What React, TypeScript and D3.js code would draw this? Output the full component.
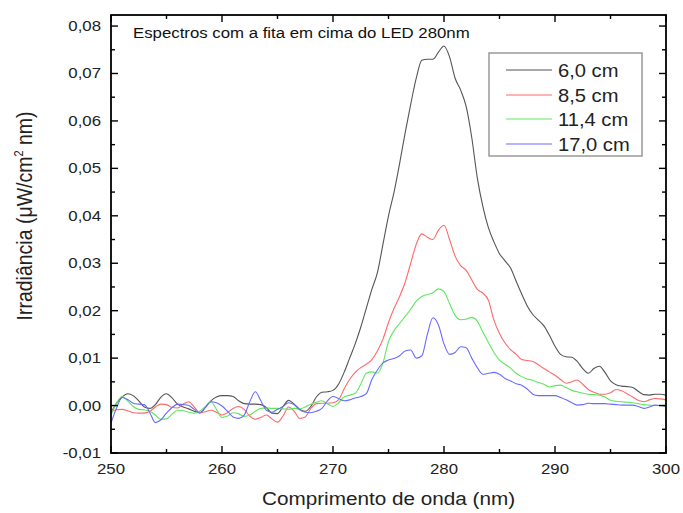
import React from "react";
import * as d3 from "d3";

const wavelengths: number[] = d3.range(250, 300.001, 0.5).map((v) => +v.toFixed(1));

const series6cm: number[] = [
  -0.0015, 0.0005, 0.0018, 0.0025, 0.0021, 0.0010, -0.0003, -0.0006, 0.0002, 0.0018,
  0.0025, 0.0016, 0.0003, -0.0003, -0.0007, -0.0012, -0.0015, -0.0004, 0.0010, 0.0018,
  0.0021, 0.0021, 0.0019, 0.0010, 0.0004, 0.0003, 0.0003, 0.0002, -0.0004, -0.0016,
  -0.0017, -0.0002, 0.0011, 0.0003, -0.0008, -0.0012, -0.0002, 0.0018, 0.0028, 0.0029,
  0.0032, 0.0045, 0.0070, 0.0100, 0.0130, 0.0165, 0.0205, 0.0245, 0.0280, 0.0340,
  0.0400, 0.0450, 0.0510, 0.0575, 0.0635, 0.0690, 0.0728, 0.0730, 0.0730, 0.0745,
  0.0758, 0.0735, 0.0690, 0.0665, 0.0630, 0.0565, 0.0480, 0.0420, 0.0375, 0.0345,
  0.0320, 0.0305, 0.0290, 0.0262, 0.0235, 0.0210, 0.0192, 0.0180, 0.0168, 0.0148,
  0.0125, 0.0108, 0.0103, 0.0102, 0.0093, 0.0078, 0.0068, 0.0078, 0.0083, 0.0070,
  0.0052, 0.0044, 0.0041, 0.0040, 0.0038, 0.0030, 0.0023, 0.0022, 0.0024, 0.0024,
  0.0022,
];

const series85cm: number[] = [
  -0.0013, -0.0009, -0.0008, -0.0011, -0.0015, -0.0016, -0.0016, -0.0012, -0.0003, 0.0003,
  0.0002, -0.0004, -0.0005, 0.0003, 0.0008, -0.0003, -0.0015, -0.0013, -0.0010, -0.0014,
  -0.0020, -0.0015, -0.0006, -0.0002, -0.0008, -0.0022, -0.0029, -0.0025, -0.0020, -0.0028,
  -0.0035, -0.0022, -0.0003, -0.0012, -0.0027, -0.0024, -0.0006, 0.0004, 0.0005, 0.0005,
  0.0006, 0.0012, 0.0035, 0.0055, 0.0070, 0.0080, 0.0087, 0.0097, 0.0115, 0.0140,
  0.0175, 0.0205, 0.0230, 0.0260, 0.0300, 0.0340, 0.0362, 0.0355, 0.0350, 0.0370,
  0.0380, 0.0350, 0.0315, 0.0295, 0.0285, 0.0265, 0.0245, 0.0237, 0.0222, 0.0180,
  0.0152, 0.0132, 0.0118, 0.0108, 0.0097, 0.0095, 0.0093, 0.0086, 0.0078, 0.0071,
  0.0064, 0.0055, 0.0047, 0.0050, 0.0054, 0.0045, 0.0034, 0.0028, 0.0024, 0.0024,
  0.0027, 0.0034, 0.0031, 0.0025, 0.0018, 0.0011, 0.0008, 0.0012, 0.0015, 0.0014,
  0.0012,
];

const series114cm: number[] = [
  -0.0020, 0.0005, 0.0019, 0.0010, -0.0002, -0.0008, -0.0009, -0.0012, -0.0020, -0.0029,
  -0.0028, -0.0018, -0.0010, -0.0011, -0.0014, -0.0016, -0.0012, -0.0002, 0.0008, -0.0008,
  -0.0025, -0.0022, -0.0015, -0.0017, -0.0023, -0.0020, -0.0012, -0.0006, -0.0005, -0.0006,
  -0.0006, -0.0007, -0.0008, -0.0006, -0.0007, -0.0003, 0.0003, 0.0007, 0.0010, 0.0004,
  -0.0002, 0.0006, 0.0018, 0.0022, 0.0026, 0.0045, 0.0068, 0.0071, 0.0068, 0.0090,
  0.0135, 0.0158, 0.0173, 0.0188, 0.0203, 0.0220, 0.0230, 0.0234, 0.0238, 0.0246,
  0.0240, 0.0215, 0.0190, 0.0181, 0.0182, 0.0186, 0.0178, 0.0155, 0.0133, 0.0112,
  0.0096, 0.0087, 0.0079, 0.0068, 0.0061, 0.0056, 0.0053, 0.0049, 0.0045, 0.0039,
  0.0042, 0.0043, 0.0038, 0.0032, 0.0029, 0.0026, 0.0024, 0.0023, 0.0022, 0.0018,
  0.0011, 0.0009, 0.0008, 0.0007, 0.0006, 0.0004, 0.0002, 0.0001, 0.0000, 0.0000,
  0.0001,
];

const series170cm: number[] = [
  -0.0037, -0.0005, 0.0017, 0.0013, 0.0005, 0.0003, 0.0002, -0.0015, -0.0036, -0.0030,
  -0.0016, -0.0004, 0.0003, 0.0002, 0.0000, -0.0008, -0.0016, -0.0004, 0.0008, 0.0006,
  -0.0001, -0.0012, -0.0024, -0.0027, -0.0020, 0.0008, 0.0029, 0.0010, -0.0010, -0.0014,
  -0.0008, -0.0002, 0.0006, 0.0002, -0.0009, -0.0014, -0.0015, -0.0012, -0.0006, 0.0010,
  0.0019, 0.0015, 0.0010, 0.0012, 0.0016, 0.0019, 0.0025, 0.0055, 0.0075, 0.0090,
  0.0096, 0.0099, 0.0105, 0.0115, 0.0117, 0.0100, 0.0105, 0.0150, 0.0185, 0.0170,
  0.0130, 0.0108, 0.0112, 0.0124, 0.0122, 0.0100, 0.0080, 0.0066, 0.0068, 0.0070,
  0.0066, 0.0057, 0.0052, 0.0046, 0.0043, 0.0035, 0.0024, 0.0021, 0.0021, 0.0021,
  0.0021, 0.0017, 0.0012, 0.0006, 0.0001, 0.0002, 0.0005, 0.0004, 0.0004, 0.0004,
  0.0003, 0.0002, 0.0001, 0.0001, 0.0001, -0.0002, -0.0006, -0.0003, 0.0001, 0.0000,
  -0.0002,
];

const seriesLabels: string[] = ["6,0 cm", "8,5 cm", "11,4 cm", "17,0 cm"];
const seriesColors: string[] = ["#555555", "#ff6a6a", "#5fe85f", "#6a6aff"];
const allSeries: number[][] = [series6cm, series85cm, series114cm, series170cm];

const titleText = "Espectros com a fita em cima do LED 280nm";
const xTitle = "Comprimento de onda (nm)";

const W = 683;
const H = 513;
const left = 111;
const right = 666;
const top = 15;
const bottom = 453;
const SX = 1.12;
const FONT = "'Liberation Sans', Arial, sans-serif";

export default function App() {
  const x = d3.scaleLinear().domain([250, 300]).range([left, right]);
  const y = d3.scaleLinear().domain([-0.01, 0.08233]).range([bottom, top]);

  const line = d3
    .line<[number, number]>()
    .x((d) => x(d[0]))
    .y((d) => y(d[1]))
    .curve(d3.curveMonotoneX);

  const xMajor = d3.range(250, 300.001, 10);
  const xMinor = d3.range(255, 300, 10);
  const yMajor = d3.range(-0.01, 0.0801, 0.01).map((v) => +v.toFixed(3));
  const yMinor = d3.range(-0.005, 0.0801, 0.01).map((v) => +v.toFixed(3));
  const fmtY = (v: number) => d3.format(".2f")(v).replace(".", ",").replace("−", "-");

  const MAJ = 7;
  const MIN = 4;

  const legendY = [70, 95, 119, 144];

  return (
    <svg
      width={W}
      height={H}
      style={{ position: "absolute", left: 0, top: 0, background: "#fff" }}
      fontFamily={FONT}
    >
      <rect x={0} y={0} width={W} height={H} fill="#fff" />
      <defs>
        <clipPath id="plotclip">
          <rect x={left} y={top} width={right - left} height={bottom - top} />
        </clipPath>
      </defs>

      {/* data lines */}
      <g clipPath="url(#plotclip)">
        {allSeries.map((s, i) => (
          <path
            key={i}
            d={line(wavelengths.map((w, j) => [w, s[j]] as [number, number])) || ""}
            fill="none"
            stroke={seriesColors[i]}
            strokeWidth={1.1}
          />
        ))}
      </g>

      {/* ticks */}
      <g stroke="#000" strokeWidth={1.4}>
        {xMajor.map((v) => (
          <g key={"xm" + v}>
            <line x1={x(v)} x2={x(v)} y1={bottom} y2={bottom - MAJ} />
            <line x1={x(v)} x2={x(v)} y1={top} y2={top + MAJ} />
          </g>
        ))}
        {xMinor.map((v) => (
          <g key={"xn" + v}>
            <line x1={x(v)} x2={x(v)} y1={bottom} y2={bottom - MIN} />
            <line x1={x(v)} x2={x(v)} y1={top} y2={top + MIN} />
          </g>
        ))}
        {yMajor.map((v) => (
          <g key={"ym" + v}>
            <line x1={left} x2={left + MAJ} y1={y(v)} y2={y(v)} />
            <line x1={right} x2={right - MAJ} y1={y(v)} y2={y(v)} />
          </g>
        ))}
        {yMinor.map((v) => (
          <g key={"yn" + v}>
            <line x1={left} x2={left + MIN} y1={y(v)} y2={y(v)} />
            <line x1={right} x2={right - MIN} y1={y(v)} y2={y(v)} />
          </g>
        ))}
      </g>

      {/* frame */}
      <rect
        x={left}
        y={top}
        width={right - left}
        height={bottom - top}
        fill="none"
        stroke="#000"
        strokeWidth={1.8}
      />

      {/* tick labels */}
      <g fontSize={15} fill="#222">
        {xMajor.map((v) => (
          <text
            key={"xl" + v}
            transform={`translate(${x(v)},${474}) scale(${SX},1)`}
            textAnchor="middle"
          >
            {String(v)}
          </text>
        ))}
        {yMajor.map((v) => (
          <text
            key={"yl" + v}
            transform={`translate(${101},${y(v) + 5}) scale(${SX},1)`}
            textAnchor="end"
          >
            {fmtY(v)}
          </text>
        ))}
      </g>

      {/* title inside plot */}
      <text
        transform={`translate(${133},${38}) scale(${SX},1)`}
        fontSize={15}
        fill="#111"
      >
        {titleText}
      </text>

      {/* legend */}
      <rect x={489} y={53} width={153} height={103} fill="#fff" stroke="#999" strokeWidth={1.5} />
      {seriesLabels.map((lab, i) => (
        <g key={lab}>
          <line x1={506} x2={552} y1={legendY[i]} y2={legendY[i]} stroke={seriesColors[i]} strokeWidth={1.1} />
          <text
            transform={`translate(${558},${legendY[i] + 6.5}) scale(${SX},1)`}
            fontSize={18}
            fill="#222"
          >
            {lab}
          </text>
        </g>
      ))}

      {/* axis titles */}
      <text
        transform={`translate(${(left + right) / 2 + 0},${505}) scale(${SX},1)`}
        textAnchor="middle"
        fontSize={18.5}
        fill="#222"
      >
        {xTitle}
      </text>
      <text
        transform={`translate(${32},${216}) scale(${SX},1) rotate(-90)`}
        textAnchor="middle"
        fontSize={19.5}
        fill="#222"
      >
        Irradiância (μW/cm
        <tspan dy={-8} fontSize={11}>2</tspan>
        <tspan dy={8}> nm)</tspan>
      </text>
    </svg>
  );
}
